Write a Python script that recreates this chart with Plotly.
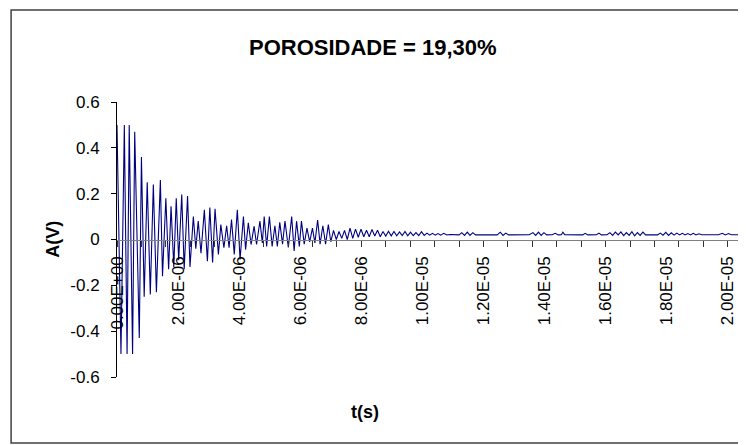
import plotly.graph_objects as go

# time of each sample in microseconds, amplitude in volts
t_us = [0.00, 0.13, 0.24, 0.33, 0.40, 0.51, 0.58, 0.73, 0.80, 0.89, 0.99, 1.09,
        1.19, 1.29, 1.42, 1.49, 1.60, 1.69, 1.77, 1.86, 1.94, 2.02, 2.12, 2.20,
        2.31, 2.39, 2.50, 2.58, 2.66, 2.75, 2.86, 2.96, 3.04, 3.13, 3.21, 3.32,
        3.40, 3.50, 3.59, 3.67, 3.75, 3.84, 3.94, 4.03, 4.14, 4.21, 4.30, 4.39,
        4.49, 4.57, 4.68, 4.76, 4.82, 4.90, 4.99, 5.08, 5.17, 5.25, 5.33, 5.42,
        5.50, 5.61, 5.72, 5.80, 5.88, 5.97, 6.04, 6.13, 6.22, 6.31, 6.40, 6.48,
        6.57, 6.65, 6.74, 6.83, 6.92, 7.00, 7.09, 7.18, 7.27, 7.36, 7.45, 7.54,
        7.63, 7.72, 7.81, 7.90, 7.99, 8.08, 8.17, 8.26, 8.35, 8.44, 8.53, 8.62,
        8.71, 8.80, 8.89, 8.98, 9.07, 9.16, 9.25, 9.34, 9.43, 9.52, 9.61, 9.70,
        9.79, 9.88, 9.97, 10.06, 10.15, 10.24, 10.33, 10.42, 10.51, 10.60, 10.70,
        10.80, 10.90, 11.20, 11.29, 11.38, 11.47, 11.56, 11.65, 11.74, 12.30,
        12.45, 12.55, 12.64, 12.73, 12.82, 13.50, 13.62, 13.71, 13.80, 13.89,
        13.98, 14.07, 14.25, 14.35, 14.45, 14.55, 14.60, 14.66, 15.25, 15.33,
        15.42, 15.70, 15.78, 15.86, 16.05, 16.14, 16.23, 16.32, 16.41, 16.50,
        16.59, 16.68, 16.77, 16.86, 16.95, 17.04, 17.13, 17.22, 17.31, 17.40,
        17.70, 17.79, 17.88, 17.97, 18.06, 18.15, 18.24, 18.33, 18.42, 18.51,
        18.60, 18.69, 18.78, 18.87, 18.96, 19.05, 19.15, 19.70, 19.82, 19.92,
        20.02, 20.12, 20.40]

amp_v = [0.50, -0.50, 0.50, -0.50, 0.50, -0.50, 0.47, -0.43, 0.36, -0.25, 0.25, -0.24,
         0.24, -0.23, 0.26, -0.16, 0.18, -0.13, 0.145, -0.12, 0.18, -0.09, 0.196, -0.13,
         0.19, -0.12, 0.10, -0.04, 0.08, -0.06, 0.13, -0.095, 0.14, -0.10, 0.134, -0.065,
         0.065, -0.036, 0.06, -0.036, 0.087, -0.065, 0.13, -0.087, 0.10, -0.044, 0.073, -0.022,
         0.058, -0.022, 0.08, -0.015, 0.10, -0.03, 0.10, -0.03, 0.06, -0.03, 0.075, -0.02,
         0.08, -0.035, 0.10, -0.05, 0.08, -0.03, 0.08, -0.02, 0.05, -0.01, 0.05, -0.015,
         0.085, -0.02, 0.06, -0.02, 0.065, -0.01, 0.04, 0.00, 0.035, 0.005, 0.04, 0.00,
         0.05, 0.005, 0.045, 0.01, 0.045, 0.012, 0.04, 0.012, 0.044, 0.015, 0.04, 0.012,
         0.035, 0.015, 0.036, 0.016, 0.035, 0.016, 0.033, 0.017, 0.035, 0.016, 0.032, 0.017,
         0.03, 0.017, 0.034, 0.018, 0.028, 0.019, 0.027, 0.019, 0.026, 0.019, 0.027,
         0.02, 0.022, 0.02, 0.03, 0.018, 0.032, 0.018, 0.03, 0.02, 0.021,
         0.02, 0.032, 0.018, 0.028, 0.02, 0.021, 0.03, 0.018, 0.032, 0.018,
         0.03, 0.02, 0.021, 0.027, 0.02, 0.021, 0.032, 0.021, 0.02, 0.027,
         0.02, 0.021, 0.028, 0.02, 0.021, 0.03, 0.018, 0.032, 0.02, 0.033,
         0.017, 0.03, 0.018, 0.034, 0.016, 0.03, 0.018, 0.032, 0.02, 0.021,
         0.02, 0.028, 0.019, 0.031, 0.018, 0.029, 0.019, 0.028, 0.02, 0.027,
         0.02, 0.026, 0.02, 0.027, 0.02, 0.025, 0.021, 0.021, 0.027, 0.02,
         0.026, 0.021, 0.021]

x_label_vals_s = [0, 2e-6, 4e-6, 6e-6, 8e-6, 1e-5, 1.2e-5, 1.4e-5, 1.6e-5, 1.8e-5, 2e-5]
x_label_text = ["0.00E+00", "2.00E-06", "4.00E-06", "6.00E-06", "8.00E-06", "1.00E-05",
                "1.20E-05", "1.40E-05", "1.60E-05", "1.80E-05", "2.00E-05"]
x_tick_marks_s = [i * 0.8e-6 for i in range(26)]
y_tick_vals = [0.6, 0.4, 0.2, 0, -0.2, -0.4, -0.6]
y_tick_text = ["0.6", "0.4", "0.2", "0", "-0.2", "-0.4", "-0.6"]

title_text = "POROSIDADE = 19,30%"
x_title = "t(s)"
y_title = "A(V)"

t_s = [v * 1e-6 for v in t_us]
x_range = [0, 20.4e-6]

fig = go.Figure()
fig.add_trace(go.Scatter(x=t_s, y=amp_v, mode="lines",
                         line=dict(color="#000080", width=1.1), hoverinfo="skip",
                         showlegend=False))
# helper invisible trace so the tick-mark axis is drawn
fig.add_trace(go.Scatter(x=[0], y=[0], xaxis="x2", yaxis="y", mode="markers",
                         marker=dict(opacity=0), hoverinfo="skip", showlegend=False))

font_family = "Liberation Sans, Arial, sans-serif"

fig.update_layout(
    width=738, height=437,
    margin=dict(l=109, r=6, t=94, b=68, autoexpand=False),
    paper_bgcolor="white", plot_bgcolor="white",
    font=dict(family=font_family, color="black", size=17),
    xaxis=dict(range=x_range, anchor="free", position=0.5,
               tickmode="array", tickvals=x_label_vals_s, ticktext=x_label_text,
               tickangle=-90, ticks="", showline=True, linecolor="#808080", linewidth=1,
               showgrid=False, zeroline=False, ticklabelstandoff=9,
               tickfont=dict(size=17, family=font_family)),
    xaxis2=dict(range=x_range, overlaying="x", anchor="free", position=0.5,
                tickmode="array", tickvals=x_tick_marks_s, showticklabels=False,
                ticks="outside", ticklen=6, tickcolor="#333333", tickwidth=1,
                showline=False, showgrid=False, zeroline=False),
    yaxis=dict(range=[-0.6, 0.6], tickmode="array", tickvals=y_tick_vals,
               ticktext=y_tick_text, ticks="outside", ticklen=5, tickcolor="black",
               showline=True, linecolor="black", linewidth=1, showgrid=False,
               zeroline=False, ticklabelstandoff=8,
               tickfont=dict(size=17, family=font_family)),
    shapes=[dict(type="rect", xref="paper", yref="paper",
                 x0=-0.170, x1=1.0064, y0=-0.240, y1=1.3345,
                 line=dict(color="#404040", width=1.5), fillcolor="rgba(0,0,0,0)")],
    annotations=[
        dict(text="<b>" + title_text + "</b>", xref="paper", yref="paper",
             x=0.411, y=1.2, xanchor="center", yanchor="middle", showarrow=False,
             font=dict(size=22, family=font_family)),
        dict(text="<b>" + y_title + "</b>", xref="paper", yref="paper",
             x=-0.104, y=0.5, xanchor="center", yanchor="middle", showarrow=False,
             textangle=-90, font=dict(size=18, family=font_family)),
        dict(text="<b>" + x_title + "</b>", xref="paper", yref="paper",
             x=0.398, y=-0.127, xanchor="center", yanchor="middle", showarrow=False,
             font=dict(size=18, family=font_family)),
    ],
)

fig.write_html("out.html")
